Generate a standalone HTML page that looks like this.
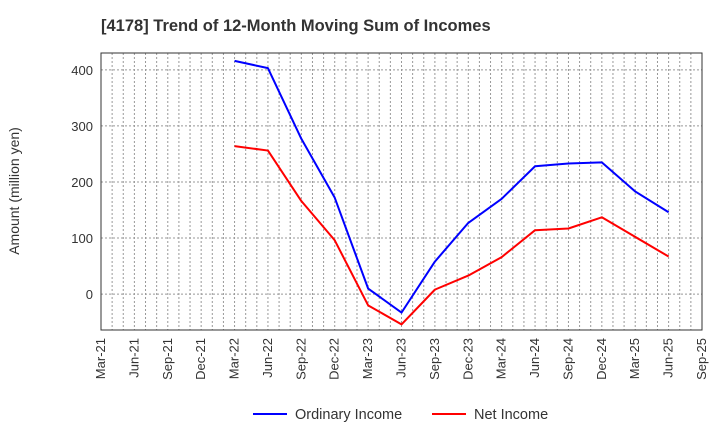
<!DOCTYPE html>
<html><head><meta charset="utf-8"><style>
body{margin:0;background:#fff;font-family:"Liberation Sans",Arial,sans-serif;}
</style></head><body>
<svg width="720" height="440" xmlns="http://www.w3.org/2000/svg" id="chart">
<text x="101" y="31" font-size="16.5" font-weight="bold" fill="#333">[4178]  Trend of 12-Month Moving Sum of Incomes</text>
<text transform="translate(19,191) rotate(-90)" text-anchor="middle" font-size="14" fill="#333">Amount (million yen)</text>
<g id="grid"></g><g id="axes"></g><g id="series"></g>
<g>
<line x1="253" y1="414" x2="287" y2="414" stroke="#0000ff" stroke-width="2"/>
<text x="295" y="419" font-size="14.5" fill="#333">Ordinary Income</text>
<line x1="432" y1="414" x2="466" y2="414" stroke="#ff0000" stroke-width="2"/>
<text x="474" y="419" font-size="14.5" fill="#333">Net Income</text>
</g>
</svg>
<script>
const xLabels=["Mar-21","Jun-21","Sep-21","Dec-21","Mar-22","Jun-22","Sep-22","Dec-22","Mar-23","Jun-23","Sep-23","Dec-23","Mar-24","Jun-24","Sep-24","Dec-24","Mar-25","Jun-25","Sep-25"];
const yTicks=[0,100,200,300,400];
const startIndex=4;
const ordinaryIncome=[416,403,277,172,10,-33,58,127,170,228,233,235,183,146];
const netIncome=[264,256,166,96,-20,-54,8,33,66,114,117,137,102,67];
const L=101,R=702,T=53,B=330,yMin=-64,yMax=430;
const NS="http://www.w3.org/2000/svg";
const xs=i=>L+(R-L)*i/(xLabels.length-1);
const ys=v=>B-(v-yMin)/(yMax-yMin)*(B-T);
function mk(tag,attrs,parent){const e=document.createElementNS(NS,tag);for(const k in attrs)e.setAttribute(k,attrs[k]);parent.appendChild(e);return e;}
const grid=document.getElementById('grid'),axes=document.getElementById('axes'),ser=document.getElementById('series');
const months=(xLabels.length-1)*3;
for(let m=1;m<months;m++){const x=L+(R-L)*m/months;
const g=mk('line',{x1:x,x2:x,y1:T,y2:B,stroke:'#999','stroke-dasharray':'2,2','stroke-width':1},grid);

}
yTicks.forEach(v=>{const y=ys(v);
const g=mk('line',{x1:L,x2:R,y1:y,y2:y,stroke:'#999','stroke-dasharray':'2,2','stroke-width':1},grid);


const t=mk('text',{x:L-8,y:y+5,'text-anchor':'end','font-size':13,fill:'#333'},axes);t.textContent=v;

});
const fr=mk('rect',{x:L,y:T,width:R-L,height:B-T,fill:'none',stroke:'#333','stroke-width':1},axes);


xLabels.forEach((s,i)=>{const x=xs(i);
const t=mk('text',{transform:`translate(${x+4},${B+8}) rotate(-90)`,'text-anchor':'end','font-size':13,fill:'#333'},axes);t.textContent=s;

});
function line(data,color,name){const pts=data.map((v,i)=>xs(i+startIndex)+','+ys(v)).join(' ');
const p=mk('polyline',{points:pts,fill:'none',stroke:color,'stroke-width':2,'stroke-linejoin':'round'},ser);

}
line(ordinaryIncome,'#0000ff','ordinary-income-line');
line(netIncome,'#ff0000','net-income-line');
</script>
</body></html>
